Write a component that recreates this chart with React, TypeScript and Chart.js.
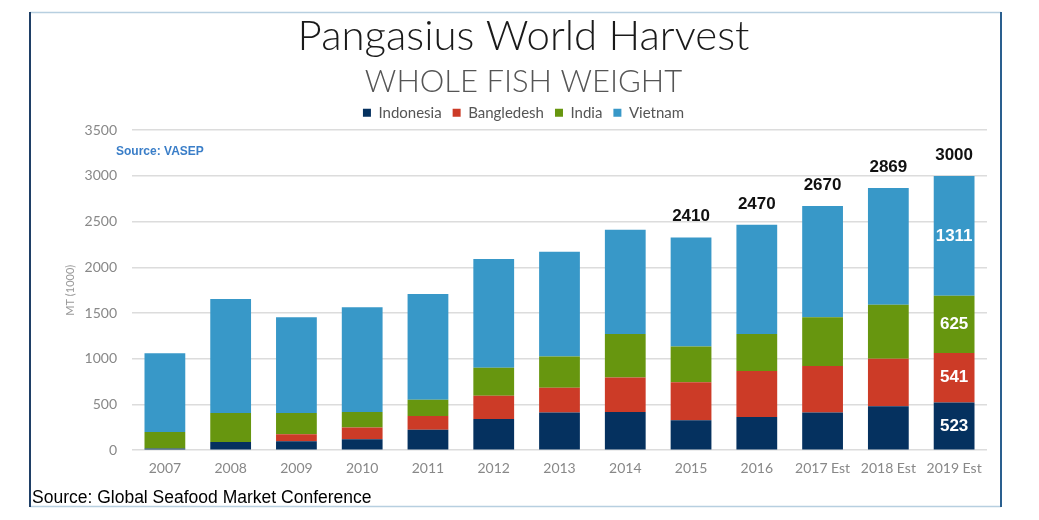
import React, { useEffect, useRef } from "react";
import { Chart, registerables } from "chart.js";

Chart.register(...registerables);

const categories = ["2007", "2008", "2009", "2010", "2011", "2012", "2013", "2014", "2015", "2016", "2017 Est", "2018 Est", "2019 Est"];
const indonesia = [18, 90, 98, 120, 225, 342, 411, 418, 327, 364, 411, 480, 523];
const bangladesh = [0, 0, 76, 127, 149, 254, 272, 378, 415, 501, 509, 520, 541];
const india = [182, 317, 233, 171, 179, 306, 342, 476, 392, 407, 534, 592, 625];
const vietnam = [861, 1247, 1047, 1145, 1156, 1188, 1145, 1138, 1192, 1193, 1216, 1277, 1311];
const totalLabels = ["", "", "", "", "", "", "", "", "2410", "2470", "2670", "2869", "3000"];
const segmentLabelCategory = "2019 Est";
const seriesNames = ["Indonesia", "Bangledesh", "India", "Vietnam"];
const seriesColors = ["#05315f", "#cc3b27", "#67960f", "#3898c8"];
const yTicks = [0, 500, 1000, 1500, 2000, 2500, 3000, 3500];

const labelsPlugin = {
  id: "labelsPlugin",
  afterDatasetsDraw(chart: any) {
    const ctx = chart.ctx;
    const topMeta = chart.getDatasetMeta(chart.data.datasets.length - 1);
    ctx.save();
    ctx.textAlign = "center";
    ctx.textBaseline = "middle";
    ctx.fillStyle = "#111";
    ctx.font = "bold 17px 'Liberation Sans', Arial, sans-serif";
    totalLabels.forEach((t, i) => {
      if (!t) return;
      const el = topMeta.data[i];
      ctx.fillText(t, el.x, el.y - 21);
    });
    const idx = categories.indexOf(segmentLabelCategory);
    ctx.fillStyle = "#ffffff";
    chart.data.datasets.forEach((ds: any, di: number) => {
      const el = chart.getDatasetMeta(di).data[idx];
      const yc = (el.y + el.base) / 2;
      ctx.fillText(String(ds.data[idx]), el.x, yc);
    });
    ctx.restore();
  },
  afterDraw(chart: any) {
    const ctx = chart.ctx;
    ctx.save();
    ctx.lineWidth = 1.5;
    ctx.strokeStyle = "#b7cfe0";
    ctx.beginPath();
    ctx.moveTo(30, 12.5);
    ctx.lineTo(1001, 12.5);
    ctx.moveTo(30, 506.5);
    ctx.lineTo(1001, 506.5);
    ctx.stroke();
    ctx.lineWidth = 2;
    ctx.strokeStyle = "#1f3f66";
    ctx.beginPath();
    ctx.moveTo(30, 12);
    ctx.lineTo(30, 507);
    ctx.stroke();
    ctx.strokeStyle = "#2a5f8f";
    ctx.beginPath();
    ctx.moveTo(1001, 12);
    ctx.lineTo(1001, 507);
    ctx.stroke();
    ctx.fillStyle = "#3a7ec8";
    ctx.font = "bold 12px 'Liberation Sans', Arial, sans-serif";
    ctx.textAlign = "left";
    ctx.textBaseline = "middle";
    ctx.fillText("Source: VASEP", 116, 152);
    ctx.fillStyle = "#000";
    ctx.font = "17.5px 'Liberation Sans Narrow', 'Liberation Sans', Arial, sans-serif";
    ctx.fillText("Source: Global Seafood Market Conference", 32, 498);
    ctx.restore();
  },
};

export default function App() {
  const ref = useRef<HTMLCanvasElement | null>(null);
  useEffect(() => {
    if (!ref.current) return;
    const datasets = [indonesia, bangladesh, india, vietnam].map((d, i) => ({
      label: seriesNames[i],
      data: d,
      backgroundColor: seriesColors[i],
      borderWidth: 0,
      barPercentage: 0.62,
      categoryPercentage: 1,
    }));
    const chart = new Chart(ref.current, {
      type: "bar",
      data: { labels: categories, datasets },
      options: {
        animation: false,
        responsive: true,
        maintainAspectRatio: false,
        layout: { padding: { left: 60, right: 52, top: 0, bottom: 33 } },
        plugins: {
          title: {
            display: true,
            text: "Pangasius World Harvest",
            color: "#1a1a1a",
            font: { family: "Lato, 'Open Sans', sans-serif", size: 42, weight: "300" },
            padding: { top: 11, bottom: 0 },
          },
          subtitle: {
            display: true,
            text: "WHOLE FISH WEIGHT",
            color: "#555",
            font: { family: "Lato, 'Open Sans', sans-serif", size: 31, weight: "300", lineHeight: 0.8 },
            padding: { top: 8, bottom: 0 },
          },
          legend: {
            display: true,
            position: "top",
            labels: {
              boxWidth: 8,
              boxHeight: 8,
              color: "#555",
              padding: 11,
              font: { family: "Lato, 'Open Sans', sans-serif", size: 15 },
            },
          },
          tooltip: { enabled: false },
        },
        scales: {
          x: {
            stacked: true,
            grid: { display: false, drawTicks: false },
            border: { display: false },
            ticks: { color: "#888", padding: 10, font: { family: "Lato, 'Open Sans', sans-serif", size: 14 } },
          },
          y: {
            stacked: true,
            min: 0,
            max: 3500,
            afterBuildTicks: (scale: any) => {
              scale.ticks = yTicks.map((v) => ({ value: v }));
            },
            afterFit: (scale: any) => {
              scale.width = 72;
            },
            grid: { color: "#dcdcdc", lineWidth: 1.5, drawTicks: false },
            border: { display: false },
            ticks: {
              color: "#888",
              padding: 15,
              font: { family: "Lato, 'Open Sans', sans-serif", size: 14 },
              callback: (v: any) => String(v),
            },
            title: {
              display: true,
              text: "MT (1000)",
              color: "#999",
              font: { family: "Lato, 'Open Sans', sans-serif", size: 11 },
            },
          },
        },
      },
      plugins: [labelsPlugin],
    });
    return () => chart.destroy();
  }, []);
  return (
    <div style={{ position: "absolute", left: 0, top: 0, width: 1039, height: 520, background: "#fff" }}>
      <canvas ref={ref} />
    </div>
  );
}
